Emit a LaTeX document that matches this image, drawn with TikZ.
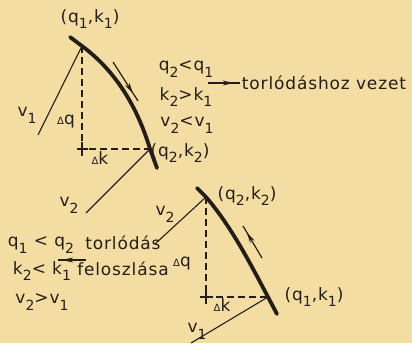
\documentclass[tikz,border=0pt]{standalone}
\usepackage{fontspec}
\setmainfont[LetterSpace=5]{DejaVu Sans}
\usetikzlibrary{arrows.meta,decorations.markings}
\definecolor{paper}{RGB}{243,221,162}
\definecolor{ink}{RGB}{35,30,25}
\newcommand\lo[1]{\raisebox{-0.4em}{\fontsize{14}{14}\selectfont #1}}
\newcommand\dl{{\fontsize{10}{10}\selectfont Δ}}
\begin{document}
\begin{tikzpicture}[x=1pt,y=-1pt,
  lab/.style={inner sep=0pt, text=ink, font=\fontsize{17}{19}\selectfont},
  ray/.style={draw=ink, line width=1.1pt},
  guide/.style={draw=ink, line width=1.2pt, dash pattern=on 7pt off 4pt},
  curvebold/.style={draw=ink, line width=3.8pt, line cap=round, line join=round},
  flow/.style={draw=ink, line width=1.2pt, postaction=decorate,
    decoration={markings, mark=at position #1 with {\arrow[ink]{Stealth[length=11pt,width=5pt]}}}},
  flow/.default=0.8]
\fill[paper] (0,0) rectangle (412,343);
\useasboundingbox (0,0) rectangle (412,343);
% upper diagram
\coordinate (s1) at (70,37);
\coordinate (A1) at (82,46);
\coordinate (A2) at (150,149);
\coordinate (e1) at (157,168);
\coordinate (C1) at (82,149);
\coordinate (r1) at (38,135);
\coordinate (r2) at (86,213);
\draw[curvebold] (s1) -- (A1) .. controls (117,72) and (138,109) .. (A2) -- (e1);
\draw[ray] (A1) -- (r1);
\draw[ray] (A2) -- (r2);
\draw[guide] (A1) -- (C1) -- (A2);
\draw[ray] (C1) ++(-5,0) -- ++(11,0) (C1) ++(0,-7) -- ++(0,14);
\coordinate (f1a) at (113,62);
\coordinate (f1b) at (138,101);
\draw[flow] (f1a) -- (f1b);
\node[lab] (p1) at (90,19) {(q\lo{1},k\lo{1})};
\node[lab] (p2) at (180,153) {(q\lo{2},k\lo{2})};
\node[lab] (dq1) at (66,122) {\dl q};
\node[lab] (dk1) at (100,158) {\dl k};
\node[lab] (v1a) at (27,115) {v\lo{1}};
\node[lab] (v2a) at (69,205) {v\lo{2}};
\node[lab] (i1) at (186,69) {q\lo{2}<q\lo{1}};
\node[lab] (i2) at (186,97) {k\lo{2}>k\lo{1}};
\node[lab] (i3) at (187,125) {v\lo{2}<v\lo{1}};
\node[lab] (t1) at (324,83) {torlódáshoz vezet};
\coordinate (a1a) at (208,83);
\coordinate (a1b) at (240,83);
\draw[flow] (a1a) -- (a1b);
% lower diagram
\coordinate (s2) at (197,188);
\coordinate (B2) at (206,197);
\coordinate (B1) at (268,297);
\coordinate (e2) at (277,314);
\coordinate (C2) at (206,297);
\coordinate (r3) at (155,244);
\coordinate (r4) at (191,343);
\draw[curvebold] (s2) -- (B2) .. controls (231,226) and (250,263) .. (B1) -- (e2);
\draw[ray] (B2) -- (r3);
\draw[ray] (B1) -- (r4);
\draw[guide] (B2) -- (C2) -- (B1);
\draw[ray] (C2) ++(-6,0) -- ++(13,0) (C2) ++(0,-7) -- ++(0,14);
\coordinate (f2a) at (262,258);
\coordinate (f2b) at (243,226);
\draw[flow] (f2a) -- (f2b);
\node[lab] (p3) at (247,196) {(q\lo{2},k\lo{2})};
\node[lab] (p4) at (314,297) {(q\lo{1},k\lo{1})};
\node[lab] (dq2) at (182,264) {\dl q};
\node[lab] (dk2) at (222,305) {\dl k};
\node[lab] (v2b) at (165,214) {v\lo{2}};
\node[lab] (v1b) at (197,331) {v\lo{1}};
\node[lab] (j1) at (41,245) {q\lo{1} < q\lo{2}};
\node[lab] (j2) at (42,271) {k\lo{2}< k\lo{1}};
\node[lab] (j3) at (42,302) {v\lo{2}>v\lo{1}};
\node[lab] (t2) at (123,243) {torlódás};
\node[lab] (t3) at (123,269) {feloszlása};
\coordinate (a2a) at (86,260);
\coordinate (a2b) at (58,260);
\draw[flow=0.85] (a2a) -- (a2b);
\end{tikzpicture}
\end{document}
